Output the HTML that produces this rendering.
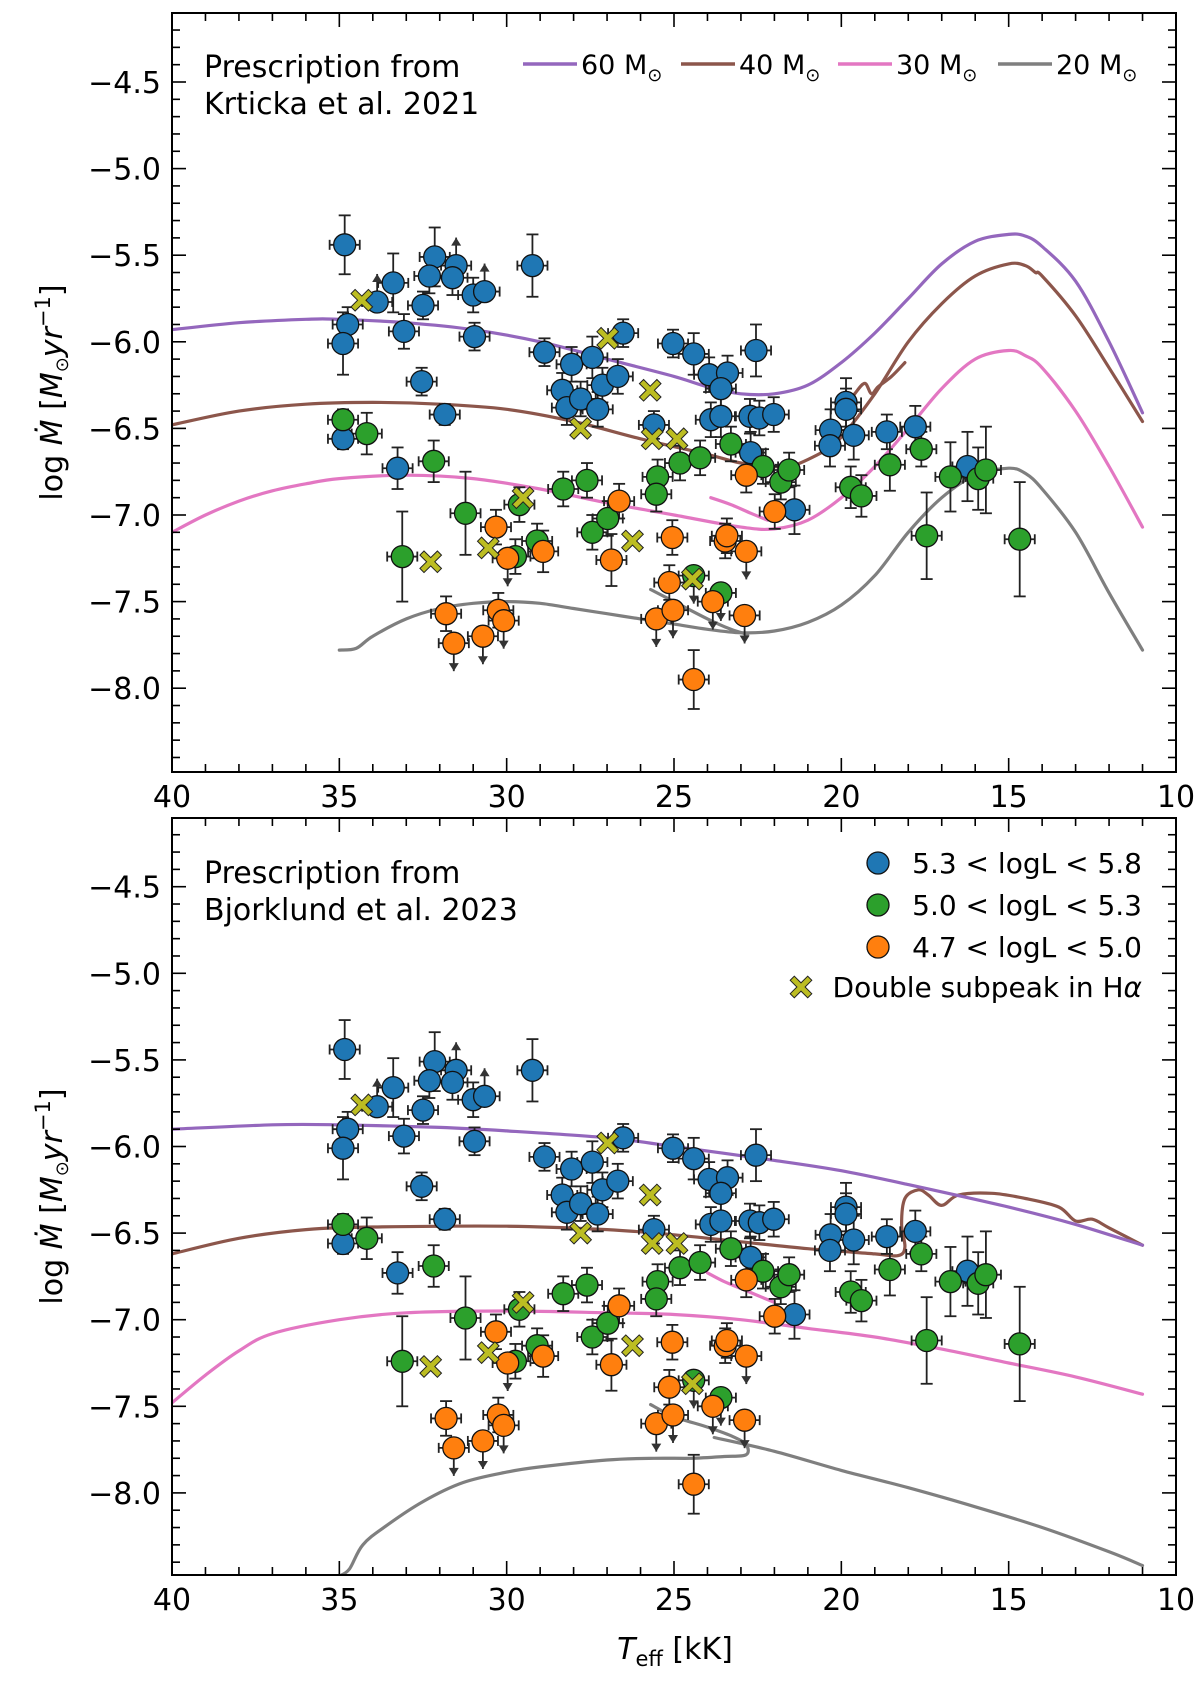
<!DOCTYPE html>
<html><head><meta charset="utf-8">
<style>
html,body{margin:0;padding:0;background:#fff;}
svg{display:block;font-family:"DejaVu Sans","Liberation Sans",sans-serif;}
</style></head>
<body>
<svg id="fig" width="1200" height="1681" viewBox="0 0 1200 1681" xmlns="http://www.w3.org/2000/svg"></svg>
<script>
// ---------- data (shared by both panels) ----------
const blueT=[34.84,34.75,34.89,33.39,33.87,33.07,32.50,32.15,32.31,31.51,31.62,31.0,30.66,30.96,32.54,31.85,29.23,28.87,28.06,28.34,28.20,27.79,27.44,27.14,27.28,26.68,26.52,25.60,25.03,24.41,23.95,23.40,23.60,23.90,23.60,22.73,22.45,22.02,22.55,22.71,21.40,20.32,20.34,19.86,19.86,19.63,18.64,17.79,16.23,34.89,33.26];
const blueM=[-5.44,-5.90,-6.01,-5.66,-5.77,-5.94,-5.79,-5.51,-5.62,-5.56,-5.63,-5.73,-5.71,-5.97,-6.23,-6.42,-5.56,-6.06,-6.13,-6.28,-6.38,-6.33,-6.09,-6.25,-6.39,-6.20,-5.95,-6.48,-6.01,-6.07,-6.19,-6.18,-6.27,-6.45,-6.43,-6.43,-6.44,-6.42,-6.05,-6.64,-6.97,-6.51,-6.60,-6.35,-6.39,-6.54,-6.52,-6.49,-6.72,-6.56,-6.73];
const blueE=[0.17,0.1,0.18,0.17,0.1,0.1,0.08,0.17,0.1,0.1,0.1,0.1,0.1,0.08,0.08,0.06,0.18,0.08,0.1,0.1,0.1,0.1,0.12,0.1,0.1,0.1,0.08,0.08,0.08,0.12,0.1,0.1,0.12,0.1,0.12,0.1,0.1,0.1,0.15,0.12,0.14,0.12,0.12,0.14,0.12,0.14,0.1,0.12,0.2,0.06,0.12];
const blueL=[0,0,0,0,1,0,0,0,0,1,0,0,1,0,0,0,0,0,0,0,0,0,0,0,0,0,0,0,0,0,0,0,0,0,0,0,0,0,0,0,0,0,0,0,0,0,0,0,0,0,0];
const greenT=[34.89,34.18,33.12,32.18,31.23,29.62,29.74,29.09,28.31,27.6,27.44,26.98,25.49,25.53,24.82,24.22,24.41,23.60,23.30,22.34,21.81,21.56,19.72,19.40,18.55,17.61,17.45,16.74,15.91,15.68,14.67];
const greenM=[-6.45,-6.53,-7.24,-6.69,-6.99,-6.94,-7.24,-7.15,-6.85,-6.80,-7.10,-7.02,-6.78,-6.88,-6.70,-6.67,-7.35,-7.45,-6.59,-6.72,-6.81,-6.74,-6.84,-6.89,-6.71,-6.62,-7.12,-6.78,-6.79,-6.74,-7.14];
const greenE=[0.06,0.12,0.26,0.12,0.24,0.1,0.1,0.1,0.1,0.1,0.1,0.1,0.1,0.1,0.1,0.1,0.1,0.1,0.1,0.1,0.1,0.1,0.12,0.12,0.15,0.1,0.25,0.2,0.18,0.25,0.33];
const greenL=[0,0,0,0,0,0,0,0,0,0,0,0,0,0,0,0,-1,-1,0,0,0,0,0,0,0,0,0,0,0,0,0];
const orangeT=[31.81,31.58,30.71,30.32,30.25,30.09,29.97,28.91,26.87,26.64,25.53,25.03,25.05,25.14,24.41,23.84,23.47,23.42,22.89,22.84,22.84,21.99];
const orangeM=[-7.57,-7.74,-7.70,-7.07,-7.55,-7.61,-7.25,-7.21,-7.26,-6.92,-7.60,-7.55,-7.13,-7.39,-7.95,-7.50,-7.15,-7.12,-7.58,-7.21,-6.77,-6.98];
const orangeE=[0.1,0.1,0.1,0.1,0.1,0.1,0.1,0.12,0.15,0.1,0.1,0.1,0.1,0.1,0.17,0.1,0.1,0.1,0.1,0.1,0.1,0.1];
const orangeL=[0,-1,-1,0,0,-1,-1,0,0,0,-1,-1,0,0,0,-1,0,0,-1,-1,0,0];
const crossT=[34.33,32.27,30.55,29.51,27.79,26.98,26.24,25.71,25.65,24.91,24.45];
const crossM=[-5.76,-7.27,-7.19,-6.90,-6.50,-5.98,-7.15,-6.28,-6.56,-6.56,-7.37];

// ---------- model curves ----------
const k60=[[40,-5.93],[38,-5.89],[36,-5.87],[35,-5.87],[33,-5.89],[31,-5.93],[29,-6.0],[27,-6.1],[25,-6.2],[24,-6.26],[23,-6.3],[22,-6.3],[21,-6.25],[20,-6.12],[19,-5.95],[18,-5.75],[17,-5.55],[16,-5.42],[15,-5.38],[14.5,-5.39],[14,-5.45],[13,-5.65],[12,-6.0],[11,-6.41]];
const k40=[[40,-6.48],[38,-6.4],[36,-6.36],[34,-6.35],[32,-6.36],[30,-6.39],[28,-6.46],[26,-6.56],[24,-6.65],[23,-6.7],[22,-6.72],[21.5,-6.72],[20.5,-6.63],[20,-6.55],[19,-6.3],[18,-6.0],[17,-5.78],[16,-5.62],[15,-5.55],[14.5,-5.56],[14.2,-5.6],[14,-5.62],[13,-5.85],[12,-6.15],[11,-6.46]];
const k40b=[[19.9,-6.38],[19.6,-6.3],[19.3,-6.24],[19.1,-6.3],[18.9,-6.26],[18.5,-6.2],[18.1,-6.12]];
const k30=[[40,-7.1],[39,-7.0],[38,-6.92],[37,-6.86],[36,-6.82],[35,-6.79],[33,-6.77],[31,-6.79],[29,-6.85],[27,-6.93],[25,-7.0],[23,-7.07],[22,-7.08],[21,-7.03],[20,-6.9],[19,-6.72],[18,-6.5],[17,-6.27],[16,-6.1],[15,-6.05],[14.5,-6.08],[14,-6.15],[13,-6.4],[12,-6.72],[11,-7.07]];
const k30b=[[23.9,-6.9],[23.3,-6.94],[22.7,-6.99],[22.2,-7.03]];
const k20=[[35,-7.78],[34.5,-7.77],[34,-7.7],[33,-7.6],[32,-7.54],[31,-7.51],[30,-7.5],[29,-7.51],[28,-7.54],[27,-7.57],[26,-7.6],[25,-7.63],[24,-7.66],[23,-7.68],[22,-7.67],[21,-7.62],[20,-7.52],[19,-7.35],[18,-7.1],[17,-6.9],[16,-6.77],[15,-6.73],[14.5,-6.76],[14,-6.85],[13,-7.1],[12,-7.45],[11,-7.78]];
const k20b=[[25.7,-7.43],[25,-7.5],[24,-7.6],[23.3,-7.66],[22.8,-7.69]];
const b60=[[40,-5.9],[37,-5.875],[35,-5.875],[32,-5.89],[30,-5.91],[27,-5.95],[25,-6.0],[22,-6.08],[20,-6.14],[18,-6.22],[15,-6.35],[13,-6.45],[11,-6.57]];
const b40=[[40,-6.62],[38,-6.53],[36,-6.48],[34,-6.465],[30,-6.46],[27,-6.48],[25,-6.51],[23,-6.55],[21,-6.59],[19,-6.62],[18.3,-6.63],[18.1,-6.58],[18.2,-6.45],[18.1,-6.3],[17.7,-6.25],[17.4,-6.28],[17,-6.34],[16.5,-6.28],[15.5,-6.27],[14.5,-6.3],[13.5,-6.35],[13,-6.43],[12.5,-6.42],[12,-6.47],[11,-6.57]];
const b30=[[40,-7.48],[39,-7.32],[38,-7.18],[37,-7.08],[35,-7.0],[33,-6.96],[30,-6.95],[27,-6.96],[25,-6.97],[23,-7.0],[21,-7.05],[19,-7.1],[17,-7.17],[15,-7.25],[13,-7.33],[11,-7.43]];
const b30b=[[24,-6.73],[23.5,-6.78],[23,-6.82],[22.5,-6.86],[22,-6.9]];
const b20=[[35,-8.48],[34.7,-8.44],[34.3,-8.3],[33.6,-8.19],[32.5,-8.05],[31.3,-7.94],[30,-7.88],[29,-7.85],[27,-7.81],[25.6,-7.8],[24.5,-7.8],[23.5,-7.79],[22.85,-7.78],[22.85,-7.72],[23.3,-7.67],[24,-7.62],[25,-7.56],[25.7,-7.49]];
const b20b=[[23.8,-7.68],[22,-7.76],[20,-7.87],[18,-7.97],[16,-8.08],[14,-8.2],[12,-8.34],[11,-8.42]];

const xTicks=[40,35,30,25,20,15,10];
const yTicks=[-4.5,-5.0,-5.5,-6.0,-6.5,-7.0,-7.5,-8.0];
const yTickLabels=["\u22124.5","\u22125.0","\u22125.5","\u22126.0","\u22126.5","\u22127.0","\u22127.5","\u22128.0"];

const NS="http://www.w3.org/2000/svg";
const svg=document.getElementById('fig');
function mk(tag,attrs,parent){const e=document.createElementNS(NS,tag);for(const k in attrs)e.setAttribute(k,attrs[k]);(parent||svg).appendChild(e);return e;}

const COL={c60:'#9467bd',c40:'#8c564b',c30:'#e377c2',c20:'#7f7f7f'};

function smoothPath(P){
  let d='M'+P[0][0].toFixed(1)+','+P[0][1].toFixed(1);
  for(let i=0;i<P.length-1;i++){
    const p0=P[i-1]||P[i],p1=P[i],p2=P[i+1],p3=P[i+2]||P[i+1];
    const c1=[p1[0]+(p2[0]-p0[0])/6,p1[1]+(p2[1]-p0[1])/6];
    const c2=[p2[0]-(p3[0]-p1[0])/6,p2[1]-(p3[1]-p1[1])/6];
    d+=' C'+c1[0].toFixed(1)+','+c1[1].toFixed(1)+' '+c2[0].toFixed(1)+','+c2[1].toFixed(1)+' '+p2[0].toFixed(1)+','+p2[1].toFixed(1);
  }
  return d;
}

function crossMark(cx,cy,parent){
  const a=12,w=4.6; // arm half-length, arm half-width
  const pts=[[0,-w],[a-w,-a-w+w],[a,-a+w],[w,0],[a,a-w],[a-w,a],[0,w],[-a+w,a],[-a,a-w],[-w,0],[-a,-a+w],[-a+w,-a]];
  return mk('polygon',{points:pts.map(p=>(cx+p[0]*0.9).toFixed(1)+','+(cy+p[1]*0.9).toFixed(1)).join(' '),fill:'#bcbd22',stroke:'#222','stroke-width':1,'stroke-linejoin':'miter'},parent);
}

function panel(name,top,bottom,y45,curves){
  const L=172,R=1176;
  const X=t=>L+(40-t)*(R-L)/30;
  const sc=173.2;
  const Y=v=>y45+(-4.5-v)*sc;
  const g=mk('g',{});
  
  
  const clipId=name+'-clip';
  const cp=mk('clipPath',{id:clipId},g);
  mk('rect',{x:L,y:top,width:R-L,height:bottom-top},cp);
  const plot=mk('g',{'clip-path':'url(#'+clipId+')'},g);
  curves.forEach(c=>{
    const p=mk('path',{d:smoothPath(c.d.map(q=>[X(q[0]),Y(q[1])])),fill:'none',stroke:c.col,'stroke-width':3.2,'stroke-linejoin':'round','stroke-linecap':'round'},plot);
    
    
  });
  function errs(T,M,E,Lm,series){
    for(let i=0;i<T.length;i++){
      const x=X(T[i]),y=Y(M[i]);
      const eg=mk('g',{stroke:'#222','stroke-width':1.8,fill:'#333'},plot);
      
      
      const dx=0.45*(R-L)/30;
      mk('line',{x1:x-dx,y1:y,x2:x+dx,y2:y},eg);
      mk('line',{x1:x-dx,y1:y-5,x2:x-dx,y2:y+5},eg);
      mk('line',{x1:x+dx,y1:y-5,x2:x+dx,y2:y+5},eg);
      if(Lm[i]===0){
        const e=E[i]*sc;
        mk('line',{x1:x,y1:y-e,x2:x,y2:y+e},eg);
        mk('line',{x1:x-6,y1:y-e,x2:x+6,y2:y-e},eg);
        mk('line',{x1:x-6,y1:y+e,x2:x+6,y2:y+e},eg);
      } else {
        const len=28;
        const ye=y+(Lm[i]<0?len:-len);
        mk('line',{x1:x,y1:y,x2:x,y2:ye},eg);
        const s=Lm[i]<0?1:-1;
        mk('polygon',{points:`${x-5},${ye-8*s} ${x+5},${ye-8*s} ${x},${ye}`,stroke:'none'},eg);
      }
    }
  }
  function dots(T,M,col,series){
    for(let i=0;i<T.length;i++){
      const c=mk('circle',{cx:X(T[i]).toFixed(1),cy:Y(M[i]).toFixed(1),r:11,fill:col,stroke:'#111','stroke-width':1.3},plot);
      
      
    }
  }
  errs(blueT,blueM,blueE,blueL,'blue');
  errs(greenT,greenM,greenE,greenL,'green');
  errs(orangeT,orangeM,orangeE,orangeL,'orange');
  dots(blueT,blueM,'#1f77b4','blue');
  dots(greenT,greenM,'#2ca02c','green');
  dots(orangeT,orangeM,'#ff7f0e','orange');
  for(let i=0;i<crossT.length;i++){
    const c=crossMark(X(crossT[i]),Y(crossM[i]),plot);
    
    
  }
  mk('rect',{x:L,y:top,width:R-L,height:bottom-top,fill:'none',stroke:'#000','stroke-width':2},g);
  const tk=mk('g',{stroke:'#000','stroke-width':1.6},g);
  for(let t=40;t>=10;t--){
    const x=X(t);const maj=(t%5===0);const len=maj?14:8;
    mk('line',{x1:x,y1:bottom,x2:x,y2:bottom-len},tk);
    mk('line',{x1:x,y1:top,x2:x,y2:top+len},tk);
  }
  for(let k=41;k<=84;k++){
    const v=-k/10;const y=Y(v);
    if(y<top||y>bottom)continue;
    const maj=(k%5===0);const len=maj?14:8;
    mk('line',{x1:L,y1:y,x2:L+len,y2:y},tk);
    mk('line',{x1:R,y1:y,x2:R-len,y2:y},tk);
  }
  xTicks.forEach(t=>{
    const tx=mk('text',{x:X(t),y:bottom+35,'text-anchor':'middle','font-size':30,fill:'#000'},g);
    tx.textContent=String(t);
    
    
  });
  yTicks.forEach((v,i)=>{
    const tx=mk('text',{x:161,y:Y(v)+11,'text-anchor':'end','font-size':30,fill:'#000'},g);
    tx.textContent=yTickLabels[i];
    
    
  });
  const cy=(top+bottom)/2;
  const yl=mk('text',{x:0,y:0,transform:`translate(62,${cy}) rotate(-90)`,'text-anchor':'middle','font-size':30,fill:'#000'},g);
  yl.innerHTML='log <tspan font-style="italic">M\u0307</tspan> [<tspan font-style="italic">M</tspan><tspan font-size="18" dy="6">\u2299</tspan><tspan dy="-6" font-style="italic">yr</tspan><tspan font-size="21" dy="-12">\u22121</tspan><tspan dy="12">]</tspan>';
  
  
  return {X,Y,g};
}

panel('top-panel',13,772,82,[
  {d:k20,col:COL.c20,n:'curve-20msun'},{d:k20b,col:COL.c20,n:'curve-20msun-hook'},
  {d:k30,col:COL.c30,n:'curve-30msun'},{d:k30b,col:COL.c30,n:'curve-30msun-hook'},
  {d:k40,col:COL.c40,n:'curve-40msun'},{d:k40b,col:COL.c40,n:'curve-40msun-loop'},
  {d:k60,col:COL.c60,n:'curve-60msun'}]);
panel('bottom-panel',818,1575,886.7,[
  {d:b20,col:COL.c20,n:'curve-20msun'},{d:b20b,col:COL.c20,n:'curve-20msun-tail'},
  {d:b30,col:COL.c30,n:'curve-30msun'},{d:b30b,col:COL.c30,n:'curve-30msun-hook'},
  {d:b40,col:COL.c40,n:'curve-40msun'},
  {d:b60,col:COL.c60,n:'curve-60msun'}]);

function txt(x,y,s,size,name,anchor){
  const t=mk('text',{x:x,y:y,'font-size':size,fill:'#000','text-anchor':anchor||'start'});
  t.textContent=s;
  
  
  return t;
}
txt(204,77,'Prescription from',30,'annotation-line1');
txt(204,114,'Krticka et al. 2021',30,'annotation-line2');
txt(204,883,'Prescription from',30,'annotation-line1');
txt(204,920,'Bjorklund et al. 2023',30,'annotation-line2');

const massLab=['60','40','30','20'];
const massCol=[COL.c60,COL.c40,COL.c30,COL.c20];
const massX=[523,681,838,998];
massLab.forEach((m,i)=>{
  const g=mk('g',{});
  
  
  mk('line',{x1:massX[i],y1:64,x2:massX[i]+54,y2:64,stroke:massCol[i],'stroke-width':3.5},g);
  const t=mk('text',{x:massX[i]+58,y:74,'font-size':27,fill:'#000'},g);
  t.innerHTML=m+' M<tspan font-size="18" dy="7">\u2299</tspan>';
});

const lgCol=['#1f77b4','#2ca02c','#ff7f0e'];
const lgLab=['5.3 < logL < 5.8','5.0 < logL < 5.3','4.7 < logL < 5.0'];
lgLab.forEach((s,i)=>{
  const g=mk('g',{});
  
  
  mk('circle',{cx:878,cy:863+42*i,r:11,fill:lgCol[i],stroke:'#111','stroke-width':1.3},g);
  const t=mk('text',{x:1142,y:873+42*i,'font-size':28,fill:'#000','text-anchor':'end'},g);
  t.textContent=s;
});
{
  const g=mk('g',{});
  
  
  crossMark(801,987,g);
  const t=mk('text',{x:1142,y:997,'font-size':28,fill:'#000','text-anchor':'end'},g);
  t.innerHTML='Double subpeak in H<tspan font-style="italic">\u03b1</tspan>';
}
{
  const t=mk('text',{x:675,y:1659,'font-size':30,fill:'#000','text-anchor':'middle'});
  t.innerHTML='<tspan font-style="italic">T</tspan><tspan font-size="21" dy="7">eff</tspan><tspan dy="-7">  [kK]</tspan>';
  
  
}
</script>
</body></html>
